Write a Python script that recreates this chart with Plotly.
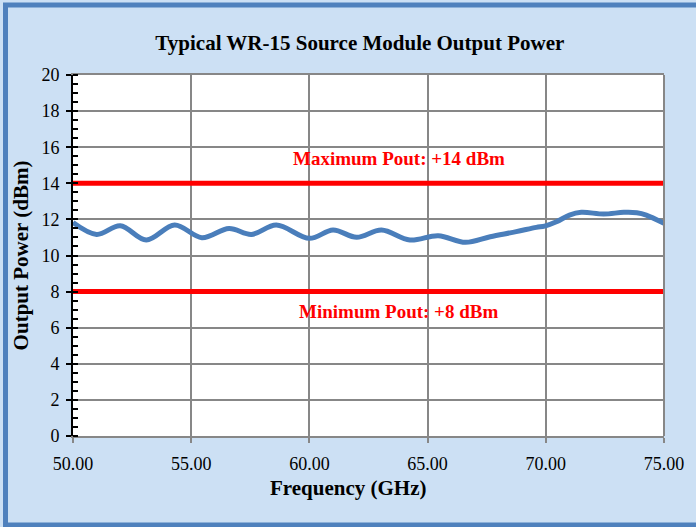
import plotly.graph_objects as go

freq_ghz = [50.0, 51.0, 52.0, 53.1, 54.3, 55.45, 56.6, 57.55, 58.6, 60.0, 61.0, 62.0,
            63.05, 64.25, 65.45, 66.6, 67.65, 68.75, 69.6, 69.95, 70.45, 71.0, 71.5,
            72.45, 73.3, 73.85, 74.25, 75.0]
power_dbm = [11.83, 11.17, 11.65, 10.86, 11.69, 10.99, 11.5, 11.17, 11.69, 10.95, 11.41, 11.01,
             11.41, 10.86, 11.1, 10.73, 11.04, 11.32, 11.56, 11.63, 11.87, 12.24, 12.39,
             12.3, 12.39, 12.37, 12.24, 11.78]

limit_x = [50.0, 75.0]
max_pout = 14
min_pout = 8
x_ticks = [50, 55, 60, 65, 70, 75]
y_ticks = [0, 2, 4, 6, 8, 10, 12, 14, 16, 18, 20]

FONT = "Liberation Serif, Times New Roman, serif"
BG = "#cce0f4"
BORDER = "#4f81bd"
GRID = "#878787"

fig = go.Figure()
fig.add_trace(go.Scatter(x=limit_x, y=[max_pout, max_pout], mode="lines",
                         line=dict(color="#ff0000", width=5), hoverinfo="skip"))
fig.add_trace(go.Scatter(x=limit_x, y=[min_pout, min_pout], mode="lines",
                         line=dict(color="#ff0000", width=5), hoverinfo="skip"))
fig.add_trace(go.Scatter(x=freq_ghz, y=power_dbm, mode="lines",
                         line=dict(color="#4a7ebb", width=5, shape="spline", smoothing=1.0)))

fig.update_layout(
    width=696, height=527,
    margin=dict(l=73, r=32, t=75, b=91),
    paper_bgcolor=BG, plot_bgcolor="white",
    showlegend=False,
    font=dict(family=FONT, size=18, color="black"),
    title=dict(text="<b>Typical WR-15 Source Module Output Power</b>",
               x=0.517, xanchor="center", y=1 - 43 / 527, yanchor="middle",
               font=dict(family=FONT, size=21, color="black")),
    shapes=[dict(type="rect", xref="paper", yref="paper",
                 x0=-0.1142, x1=1.2, y0=-0.2465, y1=1.1939,
                 line=dict(color=BORDER, width=5), fillcolor="rgba(0,0,0,0)", layer="below")],
    annotations=[
        dict(text="<b>Maximum Pout: +14 dBm</b>", x=0.551, xref="paper", y=15.35, yref="y",
             xanchor="center", yanchor="middle",
             showarrow=False, font=dict(family=FONT, size=19, color="#ff0000")),
        dict(text="<b>Minimum Pout: +8 dBm</b>", x=0.551, xref="paper", y=6.9, yref="y",
             xanchor="center", yanchor="middle",
             showarrow=False, font=dict(family=FONT, size=19, color="#ff0000")),
        dict(text="<b>Frequency (GHz)</b>", x=(348 - 73) / 591, xref="paper",
             y=-(488 - 436) / 361, yref="paper", showarrow=False,
             xanchor="center", yanchor="middle",
             font=dict(family=FONT, size=21, color="black")),
    ],
)
fig.update_xaxes(range=[50, 75], tickvals=x_ticks, tickformat=".2f",
                 showgrid=True, gridcolor=GRID, gridwidth=2,
                 showline=True, linecolor=GRID, linewidth=2, mirror=True,
                 ticks="outside", ticklen=5, tickcolor=GRID, tickwidth=2,
                 ticklabelstandoff=5,
                 zeroline=False, tickfont=dict(family=FONT, size=18))
fig.update_yaxes(range=[0, 20], tickvals=y_ticks,
                 showgrid=True, gridcolor=GRID, gridwidth=2,
                 showline=True, linecolor="black", linewidth=2,
                 ticks="outside", ticklen=5, tickcolor="black", tickwidth=2,
                 ticklabelstandoff=3,
                 minor=dict(dtick=0.5, ticks="inside", ticklen=5, tickcolor="black",
                            tickwidth=1.5, showgrid=False),
                 zeroline=False, tickfont=dict(family=FONT, size=18),
                 title=dict(text="<b>Output Power (dBm)</b>", standoff=7,
                            font=dict(family=FONT, size=21, color="black")))
fig.add_shape(type="line", xref="paper", yref="paper", x0=1, x1=1, y0=0, y1=1,
              line=dict(color=GRID, width=2))

fig.write_html("out.html", config={"displayModeBar": False},
               post_script="document.body.style.margin='0px';document.body.style.overflow='hidden';")
